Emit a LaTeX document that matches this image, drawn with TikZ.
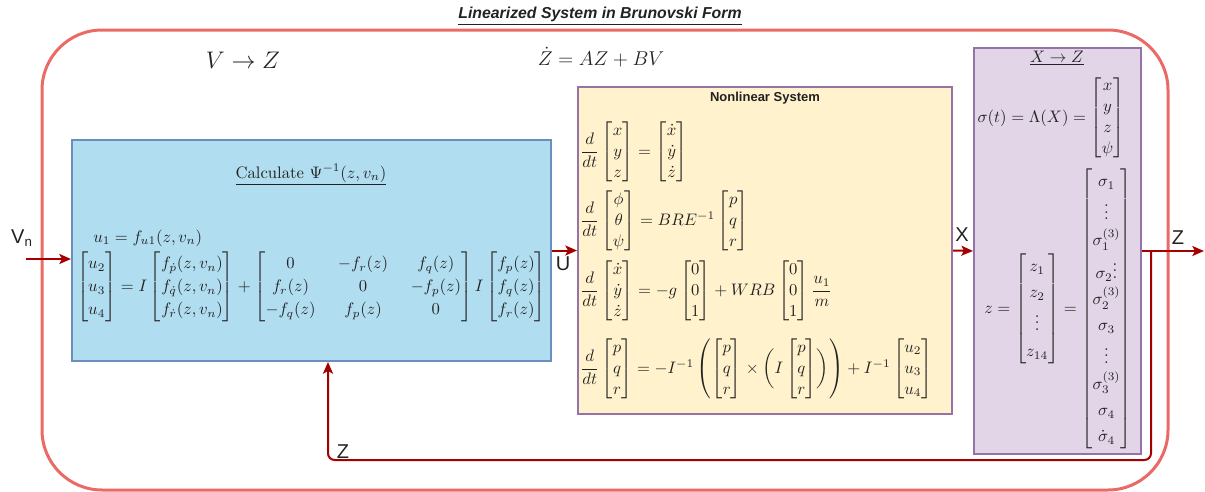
\documentclass[tikz,border=0pt]{standalone}
\usepackage{amsmath}
\usepackage{fontspec}
\setsansfont{Liberation Sans}
\usepackage{tikz}
\usetikzlibrary{arrows.meta,positioning,calc}
\definecolor{framered}{HTML}{EA6B66}
\definecolor{calcblue}{HTML}{B1DDF0}
\definecolor{calcedge}{HTML}{6C8EBF}
\definecolor{sysyellow}{HTML}{FFF2CC}
\definecolor{purpleedge}{HTML}{9673A6}
\definecolor{flatpurple}{HTML}{E1D5E7}
\definecolor{signalred}{HTML}{A50000}
\definecolor{ink}{HTML}{222222}
\renewcommand{\arraystretch}{1.05}
\setlength{\arraycolsep}{6.8pt}
\tikzset{
  block/.style={
    rectangle,
    draw,
    line width=1.2pt,
    inner sep=0pt
  },
  calcblock/.style={block, draw=calcedge, fill=calcblue,
    minimum width=287.4pt, minimum height=132.6pt},
  sysblock/.style={block, draw=purpleedge, fill=sysyellow,
    minimum width=224.4pt, minimum height=196.2pt},
  flatblock/.style={block, draw=purpleedge, fill=flatpurple,
    minimum width=100.2pt, minimum height=243.6pt},
  signal/.style={
    -{Stealth[length=7pt,width=6pt,inset=1.6pt]},
    draw=signalred,
    line width=1.2pt
  },
  signal label/.style={
    font=\sffamily\fontsize{12}{14}\selectfont,
    text=ink,
    inner sep=0pt
  },
  eq/.style={inner sep=0pt, text=ink}
}

\begin{document}
\begin{tikzpicture}[x=0.6pt, y=-0.6pt]
\useasboundingbox (0,0) rectangle (1205,492);

% Outer frame and its title.
\draw[draw=framered, line width=1.8pt, rounded corners=36pt]
  (42,30) rectangle (1168,490);
\node[eq, font=\sffamily\bfseries\itshape\fontsize{9.5}{11}\selectfont]
  (title) at (600,16) {\underline{Linearized System in Brunovski Form}};
\node[eq, font=\fontsize{14.5}{17}\selectfont] (vtoz) at (243,60) {$V \to Z$};
\node[eq, font=\fontsize{12.5}{15}\selectfont] (linsys) at (601,57) {$\dot{Z} = AZ + BV$};

% Block 1: inverse transformation.
\node[calcblock] (calc) at (311.5,250.5) {};
\node[eq] (calctitle) at (311,175)
  {$\underline{\text{Calculate } \Psi^{-1}(z, v_n)}$};
\node[eq, anchor=west] (uone) at (93,238) {$u_1 = f_{u1}(z, v_n)$};
\node[eq] (ueq) at (311.5,287) {\renewcommand{\arraystretch}{1.15}$
  \begin{bmatrix} u_2\\ u_3\\ u_4 \end{bmatrix}
  = I \begin{bmatrix} f_{\dot p}(z, v_n)\\ f_{\dot q}(z, v_n)\\ f_{\dot r}(z, v_n) \end{bmatrix}
  + \begin{bmatrix} 0 & -f_r(z) & f_q(z)\\ f_r(z) & 0 & -f_p(z)\\ -f_q(z) & f_p(z) & 0 \end{bmatrix}
  I \begin{bmatrix} f_p(z)\\ f_q(z)\\ f_r(z) \end{bmatrix}$};

% Block 2: nonlinear plant.
\node[sysblock] (plant) at (765,250.5) {};
\node[eq, font=\sffamily\bfseries\fontsize{7.8}{9}\selectfont] (planttitle) at (765,98)
  {Nonlinear System};
\node[eq, anchor=west] (eqpos) at (580,152) {$
  \dfrac{d}{dt}\begin{bmatrix} x\\ y\\ z \end{bmatrix}
  = \begin{bmatrix} \dot x\\ \dot y\\ \dot z \end{bmatrix}$};
\node[eq, anchor=west] (eqatt) at (580,221) {$
  \dfrac{d}{dt}\begin{bmatrix} \phi\\ \theta\\ \psi \end{bmatrix}
  = BRE^{-1}\begin{bmatrix} p\\ q\\ r \end{bmatrix}$};
\node[eq, anchor=west] (eqvel) at (580,291) {$
  \dfrac{d}{dt}\begin{bmatrix} \dot x\\ \dot y\\ \dot z \end{bmatrix}
  = -g\begin{bmatrix} 0\\ 0\\ 1 \end{bmatrix}
  + WRB\begin{bmatrix} 0\\ 0\\ 1 \end{bmatrix}\dfrac{u_1}{m}$};
\node[eq, anchor=west] (eqrate) at (580,369) {$
  \dfrac{d}{dt}\begin{bmatrix} p\\ q\\ r \end{bmatrix}
  = -I^{-1}\left(\begin{bmatrix} p\\ q\\ r \end{bmatrix}
  \times \biggl(I\begin{bmatrix} p\\ q\\ r \end{bmatrix}\biggr)\right)
  + I^{-1}\begin{bmatrix} u_2\\ u_3\\ u_4 \end{bmatrix}$};

% Block 3: flat output map.
\node[flatblock] (flat) at (1057.5,251) {};
\node[eq] (flattitle) at (1057,58) {$\underline{X \to Z}$};
\node[eq] (sigmaeq) at (1051,118) {$
  \sigma(t) = \Lambda(X) = \begin{bmatrix} x\\ y\\ z\\ \psi \end{bmatrix}$};
\node[eq] (zeq) at (1058,309) {\renewcommand{\arraystretch}{1.3}$
  z = \begin{bmatrix} z_1\\ z_2\\ \vdots\\ z_{14} \end{bmatrix}
  = \begin{bmatrix} \sigma_1\\ \vdots\\ \sigma_1^{(3)}\\ \sigma_2\vdots\\ \sigma_2^{(3)}\\
  \sigma_3\\ \vdots\\ \sigma_3^{(3)}\\ \sigma_4\\ \dot\sigma_4 \end{bmatrix}$};

% Signals.
\coordinate (vin) at (26,259);
\coordinate (zout) at (1204,251);
\coordinate (zsplit) at (1151,251);
\coordinate (zback) at (328,460);

\draw[signal] (vin) -- (vin -| calc.west);
\draw[signal] (calc.east) -- (plant.west);
\draw[signal] (plant.east) -- (flat.west);
\draw[signal] (flat.east) -- (zout);
\draw[signal, rounded corners=4pt] (zsplit) |- (zback) -- (zback |- calc.south);

\node[signal label] (vnlabel) at (22,238) {V\textsubscript{n}};
\node[signal label] (ulabel) at (563,264) {U};
\node[signal label] (xlabel) at (962,235) {X};
\node[signal label] (zlabel) at (1178,238) {Z};
\node[signal label] (zfblabel) at (343,452) {Z};

\end{tikzpicture}
\end{document}
